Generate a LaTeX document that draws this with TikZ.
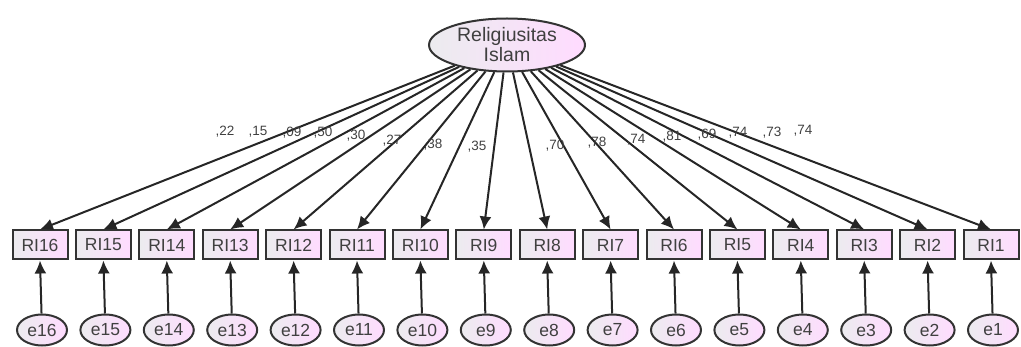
\documentclass[tikz,border=0pt]{standalone}
\usepackage{fontspec}
\setmainfont{Liberation Sans}
\usetikzlibrary{arrows.meta,shapes.geometric}
\begin{document}
\begin{tikzpicture}[x=1pt,y=-1pt,
  obs/.style={draw=black!80,line width=2pt,minimum width=55pt,minimum height=29pt,
    inner sep=0pt,left color=blue!8!gray!14,right color=magenta!14!white,text=black!75,
    font=\fontsize{17.5}{17.5}\selectfont},
  err/.style={ellipse,draw=black!80,line width=2pt,minimum width=50pt,minimum height=31pt,
    inner sep=0pt,left color=blue!8!gray!14,right color=magenta!14!white,text=black!75,
    font=\fontsize{17.5}{17.5}\selectfont},
  lat/.style={ellipse,draw=black!80,line width=2pt,minimum width=156pt,minimum height=53pt,
    inner sep=0pt,left color=blue!8!gray!14,right color=magenta!14!white,align=center,text=black!75,
    font=\fontsize{19.5}{20}\selectfont},
  path/.style={line width=2pt,draw=black!85,-{Latex[length=13pt,width=12pt]}},
  coef/.style={font=\fontsize{13.5}{13.5}\selectfont,text=black!75,inner sep=0pt}]
\useasboundingbox (0,0) rectangle (1021,347);
\node[lat] (F) at (507,45) {Religiusitas\\Islam};
% observed indicators RI16 ... RI1, left to right
\foreach \n [count=\i from 0] in {16,15,...,1}{
  \node[obs] (RI\n) at ({40+63.4*\i},245) {RI\n};
  \node[err] (e\n) at ({42+63.4*\i},330) {e\n};
  \draw[path] (F) -- (RI\n.north);
  \draw[path] (e\n) -- (RI\n.south);
}
% standardized loadings
\foreach \n/\x/\y/\v in {16/225/132/22,15/258/132/15,14/292/133/09,13/323/133/50,
  12/356/136/30,11/392/141/27,10/433/145/38,9/477/147/35,8/555/146/70,7/597/143/78,
  6/636/140/74,5/672/137/81,4/707/135/69,3/738/133/74,2/772/133/73,1/803/131/74}{
  \node[coef] (c\n) at (\x,\y) {,\v};
}
\end{tikzpicture}
\end{document}
